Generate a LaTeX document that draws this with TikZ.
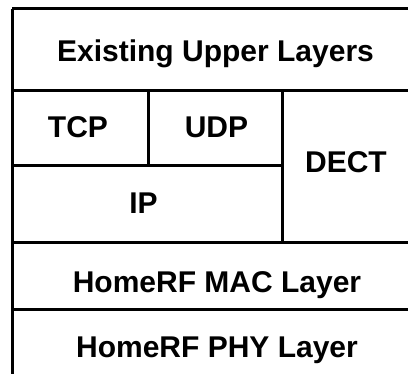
\documentclass[tikz,border=0pt]{standalone}
\usepackage{fontspec}
\setmainfont{Liberation Sans}
\begin{document}
\begin{tikzpicture}[x=1pt,y=-1pt,
  rule/.style={line width=3pt},
  layer/.style={anchor=base,inner sep=0pt,font=\fontsize{30}{32}\selectfont\bfseries}]
\useasboundingbox (0,0) rectangle (408,374);
% frame lines
\draw[rule] (12,9) -- (408,9);
\draw[rule] (12,9) -- (12,374);
\draw[rule] (12,91) -- (408,91);
\draw[rule] (12,166) -- (282.5,166);
\draw[rule] (12,242.5) -- (408,242.5);
\draw[rule] (12,310) -- (408,310);
\draw[rule] (148,91) -- (148,166);
\draw[rule] (282.5,91) -- (282.5,242.5);
% labels
\node[layer] (upper) at (215.5,61.5) {Existing Upper Layers};
\node[layer] (tcp) at (78,138) {TCP};
\node[layer] (udp) at (216.5,138) {UDP};
\node[layer] (dect) at (346,173) {DECT};
\node[layer] (ip) at (143.5,213.5) {IP};
\node[layer] (mac) at (217,293) {HomeRF MAC Layer};
\node[layer] (phy) at (217,358) {HomeRF PHY Layer};
\end{tikzpicture}
\end{document}
